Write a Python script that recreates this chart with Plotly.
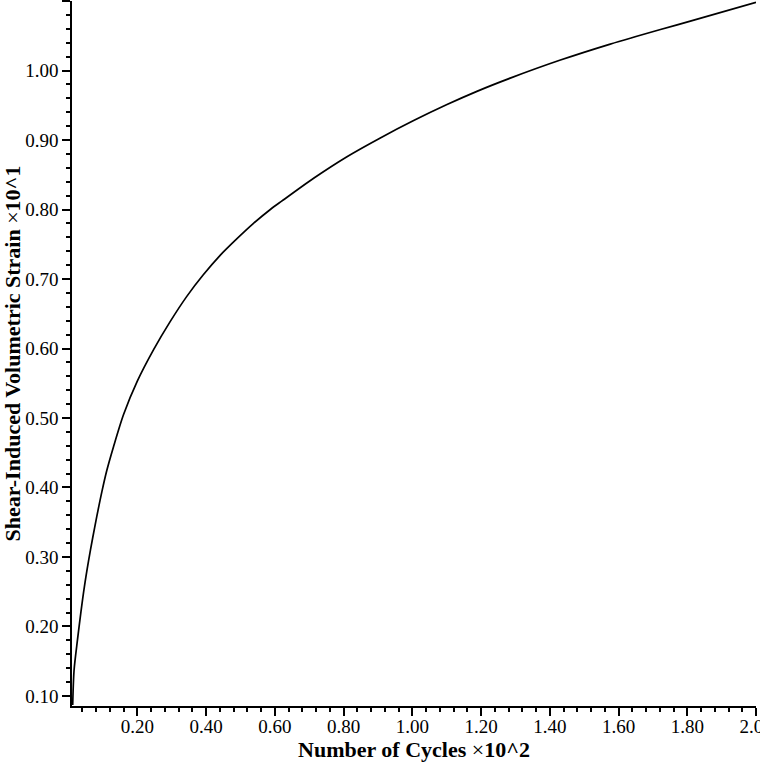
import plotly.graph_objects as go

# Number of cycles (x10^2) and shear-induced volumetric strain (x10^1)
cycles = [0.012, 0.016, 0.026, 0.036, 0.046, 0.058, 0.070, 0.082, 0.097, 0.111,
          0.131, 0.160, 0.200, 0.247, 0.296, 0.344, 0.392, 0.441, 0.490, 0.538,
          0.587, 0.620, 0.713, 0.810, 0.907, 1.004, 1.101, 1.188, 1.285, 1.431,
          1.576, 1.722, 1.809, 2.0]
strain = [0.087, 0.137, 0.181, 0.221, 0.257, 0.294, 0.327, 0.358, 0.394, 0.424,
          0.459, 0.505, 0.553, 0.598, 0.639, 0.675, 0.706, 0.734, 0.758, 0.780,
          0.800, 0.812, 0.845, 0.876, 0.903, 0.928, 0.951, 0.970, 0.989, 1.015,
          1.038, 1.059, 1.071, 1.098]

x_title = "<b>Number of Cycles</b> ×<b>10^2</b>"
y_title = "<b>Shear-Induced Volumetric Strain</b> ×<b>10^1</b>"

fig = go.Figure()
fig.add_trace(go.Scatter(x=cycles, y=strain, mode="lines",
                         line=dict(color="black", width=1.7, shape="spline", smoothing=0.8),
                         showlegend=False, hoverinfo="skip"))

font = dict(family="Liberation Serif, Times New Roman, serif", size=19, color="black")

fig.update_layout(
    width=760, height=768,
    margin=dict(l=72, r=4, t=1, b=62, autoexpand=False),
    paper_bgcolor="white", plot_bgcolor="white",
    font=font,
    xaxis=dict(
        range=[0.01, 2.0], tickmode="linear", tick0=0.2, dtick=0.2,
        tickformat=".2f", ticks="outside", ticklen=8, tickwidth=1.5, tickcolor="black",
        showline=True, linecolor="black", linewidth=1.5, showgrid=False, zeroline=False,
        minor=dict(ticks="outside", ticklen=4, tickwidth=1.5, tickcolor="black",
                   tickmode="linear", tick0=0, dtick=0.04, showgrid=False),
        title=dict(text=x_title, font=dict(size=22), standoff=2),
        tickfont=font, ticklabelstandoff=-6, ticklabeloverflow="allow",
        automargin=False,
    ),
    yaxis=dict(
        range=[0.0856, 1.1], tickmode="linear", tick0=0.1, dtick=0.1,
        tickformat=".2f", ticks="outside", ticklen=8, tickwidth=1.5, tickcolor="black",
        showline=True, linecolor="black", linewidth=1.5, showgrid=False, zeroline=False,
        minor=dict(ticks="outside", ticklen=4, tickwidth=1.5, tickcolor="black",
                   tickmode="linear", tick0=0, dtick=0.02, showgrid=False),
        title=dict(text=y_title, font=dict(size=22), standoff=4),
        tickfont=font, automargin=False,
    ),
)

fig.write_html("out.html", config={"displayModeBar": False},
               post_script="document.body.style.margin='0';document.body.style.overflow='hidden';")
